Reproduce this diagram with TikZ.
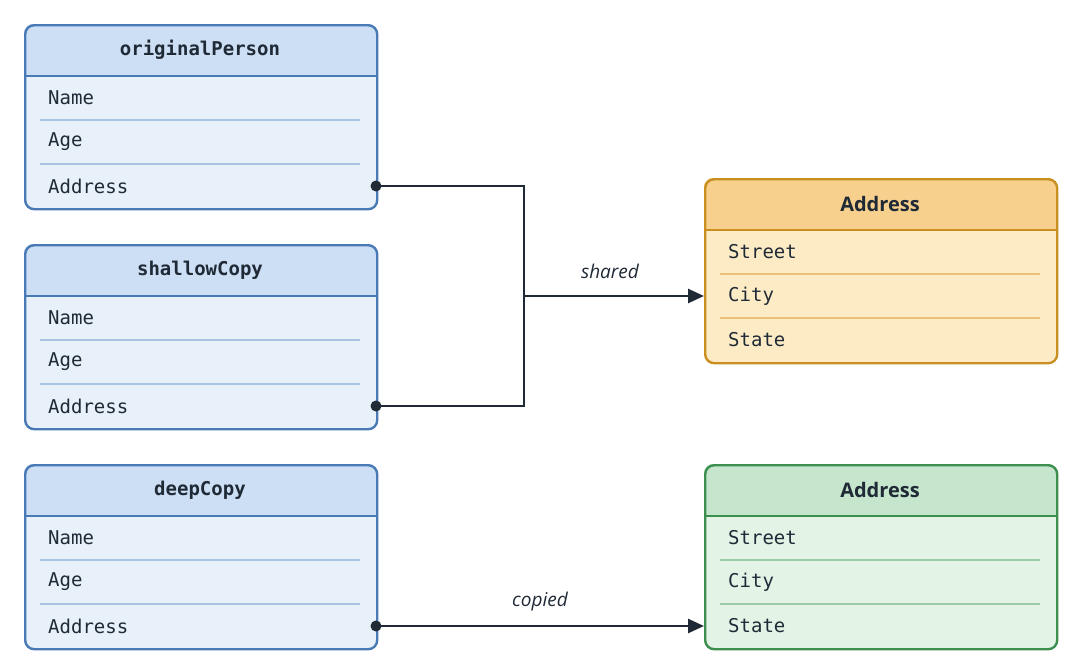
\documentclass[tikz,border=0pt]{standalone}
\usepackage{fontspec}
\setmainfont{Open Sans}
\setmonofont{DejaVu Sans Mono}
\usetikzlibrary{arrows.meta}
\definecolor{ink}{HTML}{1F2A36}
\definecolor{bB}{HTML}{4A7AB5}\definecolor{bH}{HTML}{CDDFF4}\definecolor{bF}{HTML}{E8F0FA}\definecolor{bS}{HTML}{A9C3E3}
\definecolor{oB}{HTML}{C98F1F}\definecolor{oH}{HTML}{F6D08C}\definecolor{oF}{HTML}{FDEBC6}\definecolor{oS}{HTML}{E9C27A}
\definecolor{gB}{HTML}{3D8F50}\definecolor{gH}{HTML}{C5E5CC}\definecolor{gF}{HTML}{E3F3E6}\definecolor{gS}{HTML}{9CCBA7}
\tikzset{
  rowtxt/.style={anchor=west,inner sep=0pt,text=ink,font=\ttfamily\fontsize{19}{22}\selectfont},
  hdtxt/.style={inner sep=0pt,text=ink,font=\ttfamily\bfseries\fontsize{19}{22}\selectfont},
  hdsans/.style={inner sep=0pt,text=ink,font=\bfseries\fontsize{20}{24}\selectfont},
  conn/.style={draw=ink,line width=2.6pt},
  lbl/.style={inner sep=0pt,text=ink,font=\itshape\fontsize{19}{22}\selectfont},
}
% #1 name, #2 x, #3 ytop, #4 color prefix, #5 header text, #6 header style, #7,#8,#9 rows
\newcommand\mybox[9]{%
  \fill[#4F,rounded corners=9pt] (#2,#3) rectangle ++(352,184);
  \fill[#4H,rounded corners=9pt] (#2,#3) rectangle ++(352,52);
  \fill[#4H] (#2,#3+30) rectangle ++(352,22);
  \draw[#4B,line width=1.6pt] (#2,#3+52) -- ++(352,0);
  \draw[#4S,line width=1.2pt] (#2+16,#3+96) -- ++(320,0) (#2+16,#3+140) -- ++(320,0);
  \node[draw=#4B,line width=2.4pt,rounded corners=9pt,minimum width=352pt,minimum height=184pt,anchor=north west,inner sep=0pt] (#1) at (#2,#3) {};
  \node[#6] (#1-h) at (#2+176,#3+26) {#5};
  \node[rowtxt] (#1-r1) at (#2+24,#3+74) {#7};
  \node[rowtxt] (#1-r2) at (#2+24,#3+118) {#8};
  \node[rowtxt] (#1-r3) at (#2+24,#3+162) {#9};
  \coordinate (#1-w3) at (#2,#3+162);
  \coordinate (#1-e3) at (#2+352,#3+162);
  \coordinate (#1-w2) at (#2,#3+118);
}
\begin{document}
\begin{tikzpicture}[x=1pt,y=-1pt]
\useasboundingbox (0,0) rectangle (1080,672);
\fill[white] (0,0) rectangle (1080,672);
\mybox{op}{24}{24}{b}{originalPerson}{hdtxt}{Name}{Age}{Address}
\mybox{sc}{24}{244}{b}{shallowCopy}{hdtxt}{Name}{Age}{Address}
\mybox{dc}{24}{464}{b}{deepCopy}{hdtxt}{Name}{Age}{Address}
\mybox{ao}{704}{178}{o}{Address}{hdsans}{Street}{City}{State}
\mybox{ag}{704}{464}{g}{Address}{hdsans}{Street}{City}{State}
\coordinate (j) at (524,296);
\draw[conn] (op-e3) -| (j);
\draw[conn] (sc-e3) -| (j);
\draw[conn,-{Triangle[length=16pt,width=14pt]}] (j) -- (ao-w2);
\draw[conn,-{Triangle[length=16pt,width=14pt]}] (dc-e3) -- (ag-w3);
\fill[ink] (op-e3) circle (5.5pt) (sc-e3) circle (5.5pt) (dc-e3) circle (5.5pt);
\node[lbl] (ls) at (610,271) {shared};
\node[lbl] (lc) at (540,602) {copied};
\end{tikzpicture}
\end{document}
